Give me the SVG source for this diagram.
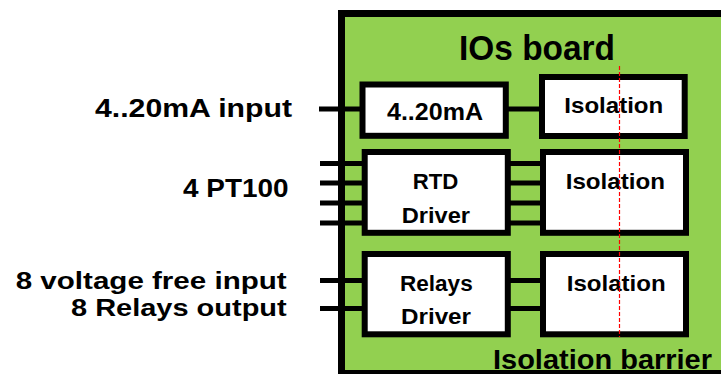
<svg xmlns="http://www.w3.org/2000/svg" width="721" height="374" viewBox="0 0 721 374">
  <style>
    text { font-family: "Liberation Sans", Arial, sans-serif; font-weight: bold; fill: #000; }
    .lbl { font-size: 26px; }
    .lbl2 { font-size: 24px; }
    .in { font-size: 22.5px; }
    .box { fill: #fff; stroke: #000; stroke-width: 6; }
    .wire { stroke: #000; stroke-width: 5; fill: none; }
  </style>
  <rect width="721" height="374" fill="#fff"/>
  <g id="board">
    <rect x="341.5" y="13.5" width="420" height="360" fill="#92D050" stroke="#000" stroke-width="7"/>
    <text x="537" y="60" font-size="35" text-anchor="middle" textLength="156" lengthAdjust="spacingAndGlyphs">IOs board</text>
    <text x="493" y="368.5" font-size="27" textLength="219" lengthAdjust="spacingAndGlyphs">Isolation barrier</text>
  </g>
  <g id="labels">
    <text class="lbl" x="95" y="116.7" textLength="197" lengthAdjust="spacingAndGlyphs">4..20mA input</text>
    <text class="lbl" x="183" y="196.7" textLength="105.5" lengthAdjust="spacingAndGlyphs">4 PT100</text>
    <text class="lbl2" x="15.7" y="288.8" textLength="271" lengthAdjust="spacingAndGlyphs">8 voltage free input</text>
    <text class="lbl2" x="71" y="316.3" textLength="215.7" lengthAdjust="spacingAndGlyphs">8 Relays output</text>
  </g>
  <g id="connectors">
    <path class="wire" d="M319 109H364M505 109H544"/>
    <path class="wire" d="M320 163.5H366M320 183H366M320 203H366M320 223H366"/>
    <path class="wire" d="M506 163.5H545M506 183H545M506 203H545M506 223H545"/>
    <path class="wire" d="M320 280.5H366M320 308.5H366M506 280.5H545M506 308.5H545"/>
  </g>
  <g id="n-4-20ma">
    <rect class="box" x="362.5" y="84.5" width="143.3" height="51.3" stroke-width="5"/>
    <text x="387" y="120" font-size="24.5" textLength="96" lengthAdjust="spacingAndGlyphs">4..20mA</text>
  </g>
  <g id="n-iso1">
    <rect class="box" x="542" y="77" width="142.7" height="59"/>
    <text class="in" x="564.3" y="113.3" textLength="99" lengthAdjust="spacingAndGlyphs">Isolation</text>
  </g>
  <g id="n-rtd">
    <rect class="box" x="364.7" y="152" width="143.1" height="80.8"/>
    <text class="in" x="412.7" y="189.3" textLength="45.6" lengthAdjust="spacingAndGlyphs">RTD</text>
    <text class="in" x="401.7" y="222.7" textLength="68.3" lengthAdjust="spacingAndGlyphs">Driver</text>
  </g>
  <g id="n-iso2">
    <rect class="box" x="543" y="152" width="143" height="80.8"/>
    <text class="in" x="565.7" y="188.5" textLength="99.3" lengthAdjust="spacingAndGlyphs">Isolation</text>
  </g>
  <g id="n-relays">
    <rect class="box" x="364.7" y="254" width="143.1" height="80.3"/>
    <text class="in" x="400" y="290.7" textLength="72.7" lengthAdjust="spacingAndGlyphs">Relays</text>
    <text class="in" x="401" y="324.3" textLength="70" lengthAdjust="spacingAndGlyphs">Driver</text>
  </g>
  <g id="n-iso3">
    <rect class="box" x="543" y="254" width="143" height="80.3"/>
    <text class="in" x="566.7" y="290.7" textLength="99" lengthAdjust="spacingAndGlyphs">Isolation</text>
  </g>
  <g id="barrier-line">
    <line x1="619.5" y1="66" x2="619.5" y2="337" stroke="#FF0000" stroke-width="1.2" stroke-dasharray="4 2"/>
  </g>
</svg>
